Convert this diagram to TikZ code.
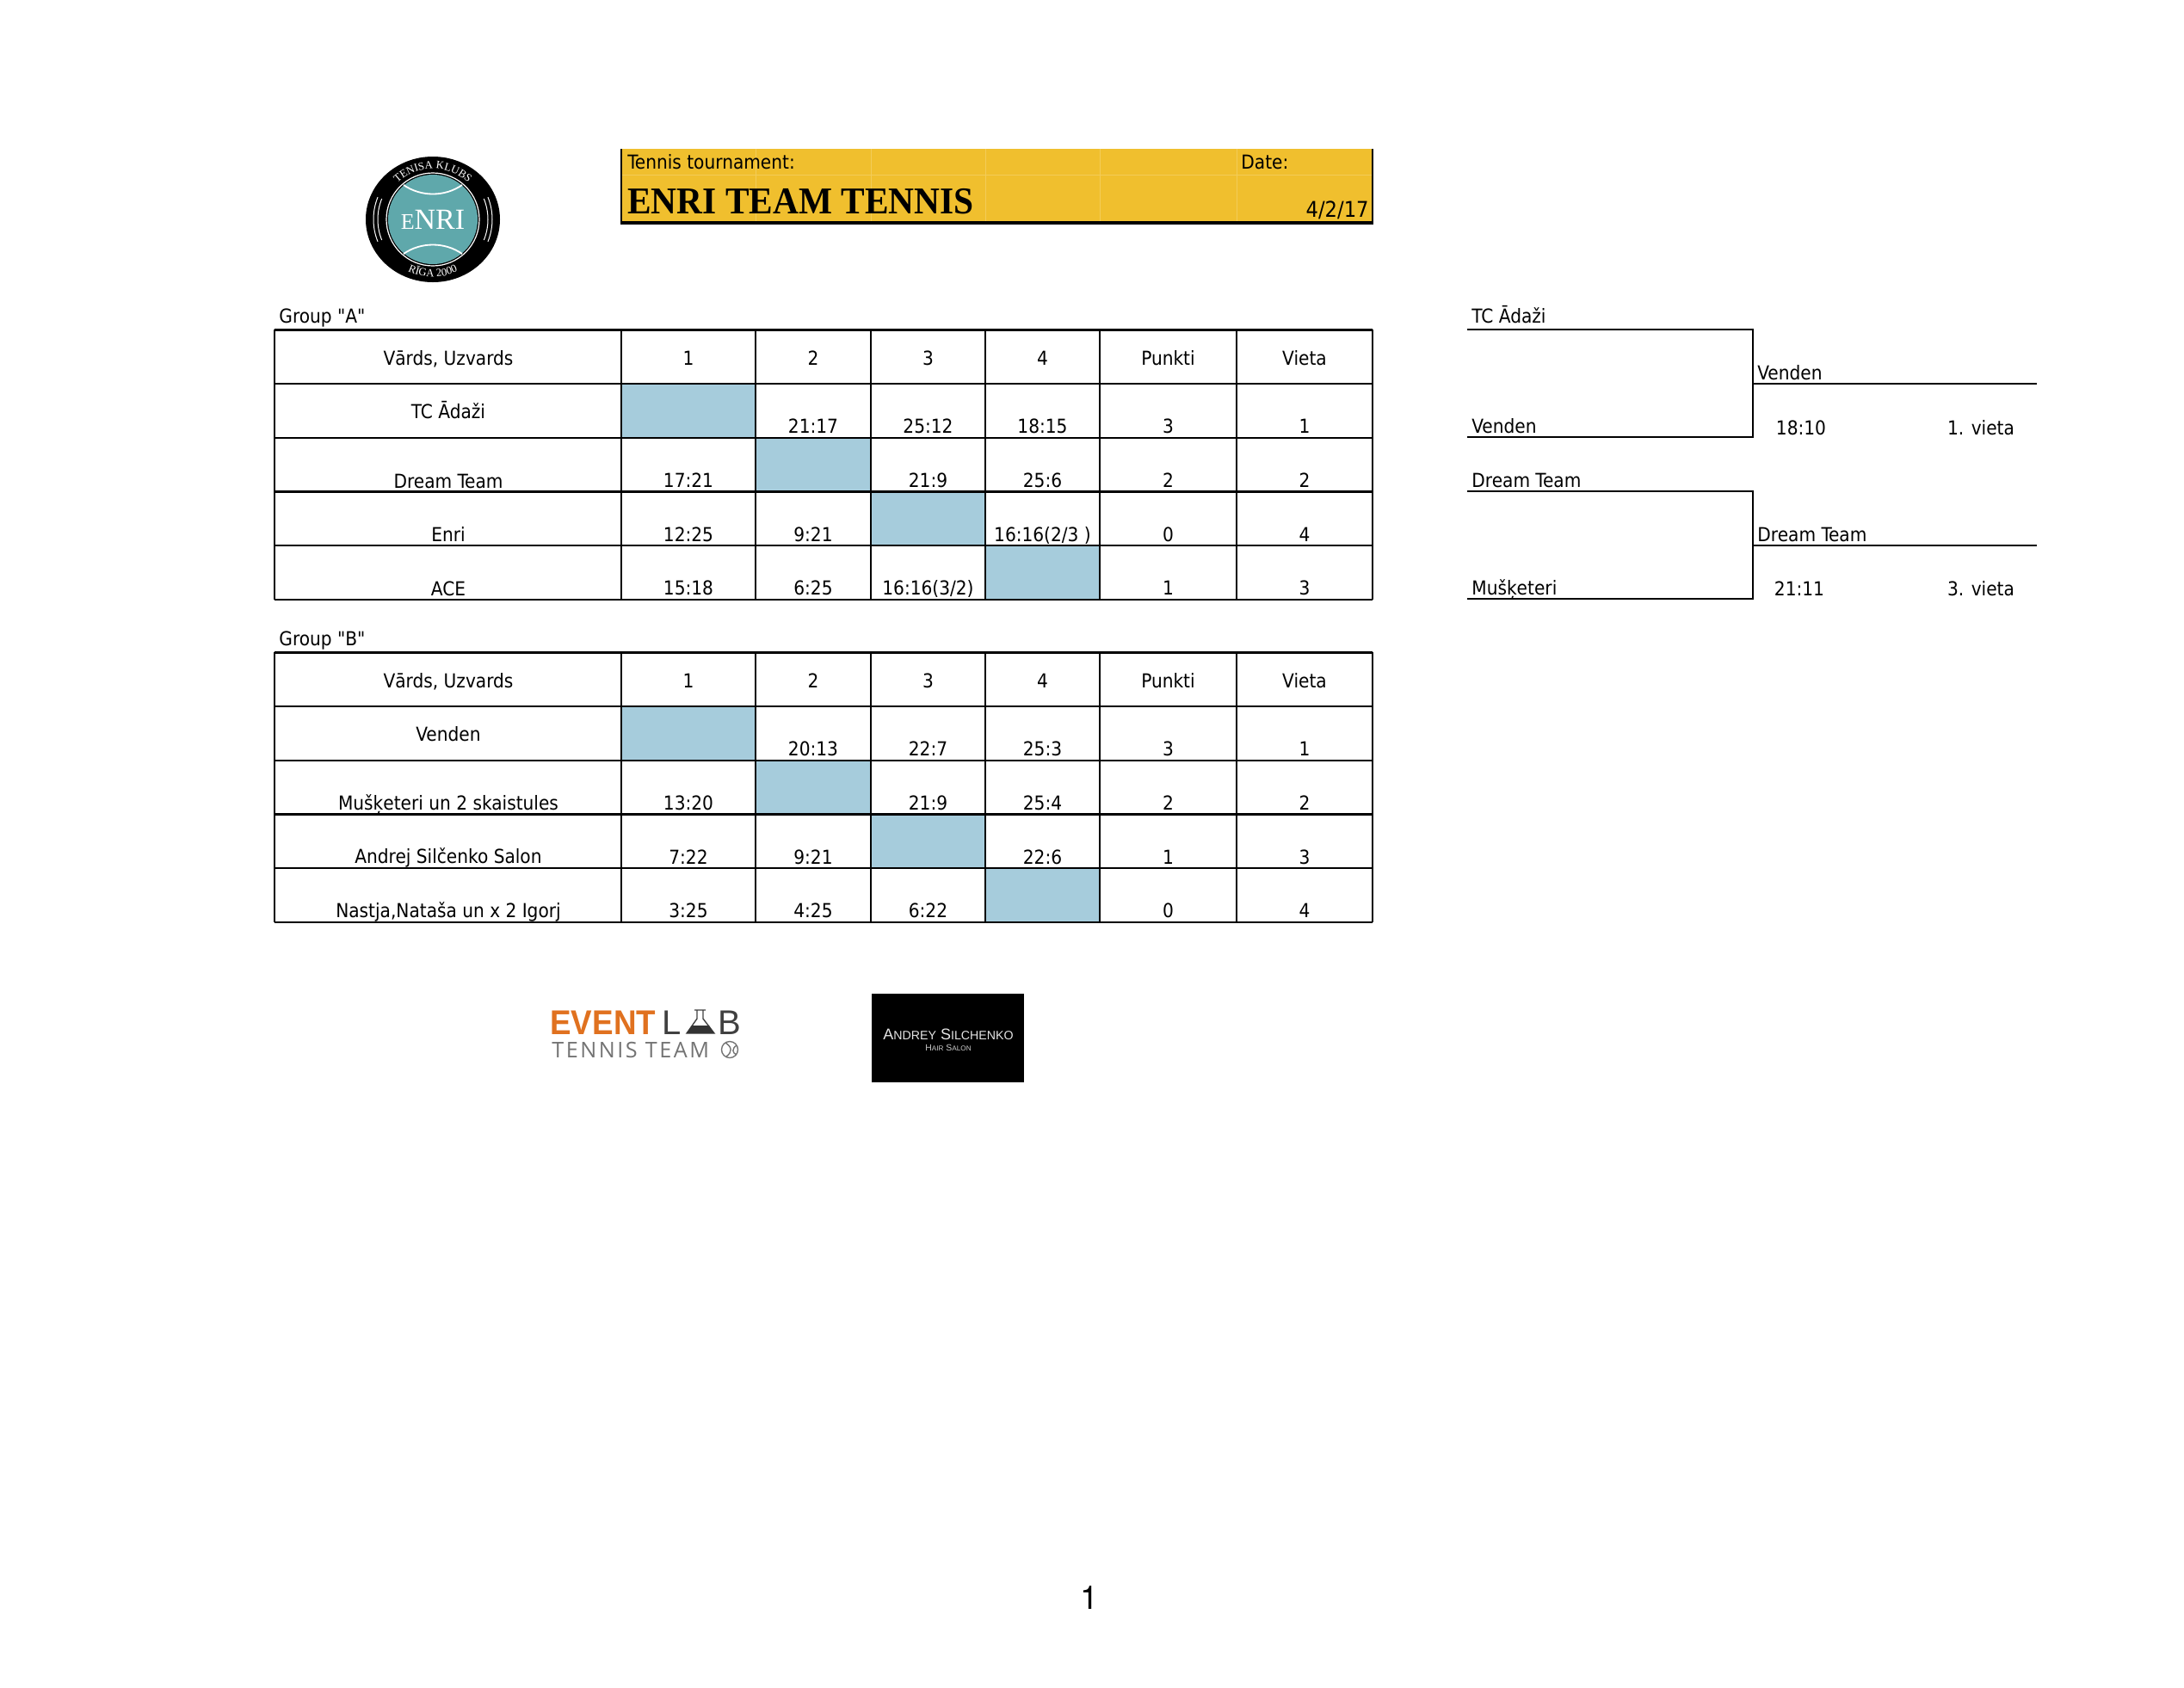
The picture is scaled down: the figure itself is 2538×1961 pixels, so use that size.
\documentclass[tikz,border=0pt]{standalone}
\usepackage{fontspec}
\setmainfont[Ligatures=TeXOff]{DejaVu Sans Condensed}
\newfontfamily\titlefont[FakeStretch=0.94]{Liberation Serif}
\newfontfamily\logofont{Liberation Serif}
\newfontfamily\pagefont{Liberation Sans}
\newfontfamily\numberfont{TeX Gyre Heros}
\newfontfamily\eventfont[FakeStretch=0.92]{Liberation Sans}
\newfontfamily\teamfont[LetterSpace=10]{Open Sans}
\usetikzlibrary{decorations.text}

\definecolor{cellblue}{HTML}{A6CCDC}
\definecolor{headyellow}{HTML}{F0BF2E}
\definecolor{logoteal}{HTML}{5FA8AB}
\definecolor{eventorange}{HTML}{E0711F}

\tikzset{
    cell/.style={anchor=base, inner sep=0pt, font=\fontsize{11.2}{13}\selectfont},
    lcell/.style={cell, anchor=base west},
    rule/.style={line width=1.2pt, black},
    seam/.style={line width=0.9pt, white},
    ringtext/.style={decoration={text along path, text align=center, text color=white,
        text={#1}}, postaction={decorate}},
}

\newcommand{\scorecell}[5]{%
    \ifx\relax#5\relax
        \fill[cellblue] ({#2-#3/2},{#4-62.7}) rectangle ({#2+#3/2},#4);
    \else
        \node[cell] (#1) at (#2,{#4-5}) {#5};
    \fi
}
\newcommand{\teamrow}[8]{%
    \scorecell{#1a}{800}{156}{#2}{#3}
    \scorecell{#1b}{945}{134}{#2}{#4}
    \scorecell{#1c}{1078.5}{133}{#2}{#5}
    \scorecell{#1d}{1211.5}{133}{#2}{#6}
    \node[cell] (#1p) at (1357.5,{#2-5}) {#7};
    \node[cell] (#1v) at (1516,{#2-5}) {#8};
}
\newcommand{\tablehead}[2]{%
    \node[cell] (#1n) at (521,#2) {Vārds, Uzvards};
    \foreach \cx/\ct [count=\ci] in {800/1,945/2,1078.5/3,1211.5/4,1357.5/Punkti,1516/Vieta}
        \node[cell] (#1h\ci) at (\cx,#2) {\ct};
}
\newcommand{\tablegrid}[1]{%
    \foreach \ry in {0,...,5}
        \draw[rule] (319,{#1+\ry*62.7}) -- (1595,{#1+\ry*62.7});
    \foreach \cx in {319,722,878,1012,1145,1278,1437,1595}
        \draw[rule] (\cx,#1) -- (\cx,{#1+313.5});
}

\begin{document}
\begin{tikzpicture}[x=0.5pt, y=-0.5pt]
    \useasboundingbox (0,0) rectangle (2538,1961);

    % title bar
    \fill[headyellow] (721,173) rectangle (1595,259);
    \foreach \cx in {878,1012,1145,1278,1437}
        \draw[headyellow!80!white, line width=0.4pt] (\cx,173) -- (\cx,259);
    \draw[headyellow!80!white, line width=0.4pt] (721,203) -- (1595,203);
    \draw[line width=1.4pt] (722,173) -- (722,259);
    \draw[line width=1.4pt] (1595,173) -- (1595,259);
    \draw[line width=2pt] (721,259) -- (1596,259);
    \node[lcell] (tourn) at (729,196) {Tennis tournament:};
    \node[lcell] (datelbl) at (1442,196) {Date:};
    \node[lcell, font=\titlefont\bfseries\fontsize{22}{24}\selectfont] (title) at (729,248) {ENRI TEAM TENNIS};
    \node[cell, anchor=base east, font=\fontsize{12.6}{14}\selectfont] (dateval) at (1591,252) {4/2/17};

    % club logo
    \begin{scope}[shift={(503,255)}]
        \fill[black] (0,0) ellipse [x radius=78, y radius=73];
        \draw[white, line width=0.5pt] (158:64) arc [start angle=158, end angle=202, radius=64];
        \draw[white, line width=0.5pt] (158:69) arc [start angle=158, end angle=202, radius=69];
        \draw[white, line width=0.5pt] (-22:64) arc [start angle=-22, end angle=22, radius=64];
        \draw[white, line width=0.5pt] (-22:69) arc [start angle=-22, end angle=22, radius=69];
        \fill[logoteal] (0,0) circle [radius=52];
        \draw[white, line width=0.6pt] (0,0) circle [radius=54];
        \draw[seam] (-34,-40) .. controls (-14,-26) and (14,-26) .. (34,-40);
        \draw[seam] (-34,40) .. controls (-14,26) and (14,26) .. (34,40);
        \path[ringtext={|\logofont\fontsize{6.4}{7}\selectfont|TENISA KLUBS}]
            (-150:59) arc [start angle=-150, end angle=-30, radius=59];
        \path[ringtext={|\logofont\fontsize{6.4}{7}\selectfont|RĪGA 2000}]
            (140:67) arc [start angle=140, end angle=40, radius=67];
        \node[anchor=center, inner sep=0pt, white, font=\logofont\fontsize{17}{18}\selectfont] (enri) at (0,0)
            {{\fontsize{13}{14}\selectfont E}NRI};
    \end{scope}

    % group A
    \node[lcell] (groupA) at (324,375) {Group "A"};
    \tablehead{ah}{424}
    \node[cell] (an1) at (521,486) {TC Ādaži};
    \node[cell] (an2) at (521,567) {Dream Team};
    \node[cell] (an3) at (521,629) {Enri};
    \node[cell] (an4) at (521,692) {ACE};
    \teamrow{a1}{508.7}{}{21:17}{25:12}{18:15}{3}{1}
    \teamrow{a2}{571.4}{17:21}{}{21:9}{25:6}{2}{2}
    \teamrow{a3}{634.1}{12:25}{9:21}{}{16:16(2/3 )}{0}{4}
    \teamrow{a4}{696.8}{15:18}{6:25}{16:16(3/2)}{}{1}{3}
    \tablegrid{383.3}

    % group B
    \node[lcell] (groupB) at (324,750) {Group "B"};
    \tablehead{bh}{799}
    \node[cell] (bn1) at (521,861) {Venden};
    \node[cell] (bn2) at (521,941) {Mušķeteri un 2 skaistules};
    \node[cell] (bn3) at (521,1003) {Andrej Silčenko Salon};
    \node[cell] (bn4) at (521,1066) {Nastja,Nataša un x 2 Igorj};
    \teamrow{b1}{883.7}{}{20:13}{22:7}{25:3}{3}{1}
    \teamrow{b2}{946.4}{13:20}{}{21:9}{25:4}{2}{2}
    \teamrow{b3}{1009.1}{7:22}{9:21}{}{22:6}{1}{3}
    \teamrow{b4}{1071.8}{3:25}{4:25}{6:22}{}{0}{4}
    \tablegrid{758.3}

    % play-off brackets
    \coordinate (u1) at (1705,383);
    \coordinate (u2) at (2037,383);
    \coordinate (u3) at (2037,508);
    \coordinate (u4) at (1705,508);
    \coordinate (u5) at (2037,446);
    \coordinate (u6) at (2367,446);
    \draw[rule] (u1) -- (u2) -- (u3) -- (u4);
    \draw[rule] (u5) -- (u6);
    \node[lcell] (up1) at (1710,375) {TC Ādaži};
    \node[lcell] (up2) at (1710,503) {Venden};
    \node[lcell] (up3) at (2042,441) {Venden};
    \node[cell] (up4) at (2093,505) {18:10};
    \node[cell] (up5) at (2302,505) {1. vieta};

    \coordinate (d1) at (1705,571);
    \coordinate (d2) at (2037,571);
    \coordinate (d3) at (2037,696);
    \coordinate (d4) at (1705,696);
    \coordinate (d5) at (2037,634);
    \coordinate (d6) at (2367,634);
    \draw[rule] (d1) -- (d2) -- (d3) -- (d4);
    \draw[rule] (d5) -- (d6);
    \node[lcell] (dn1) at (1710,566) {Dream Team};
    \node[lcell] (dn2) at (1710,691) {Mušķeteri};
    \node[lcell] (dn3) at (2042,629) {Dream Team};
    \node[cell] (dn4) at (2091,692) {21:11};
    \node[cell] (dn5) at (2302,692) {3. vieta};

    % sponsors
    \node[lcell, eventorange, font=\eventfont\bfseries\fontsize{20}{22}\selectfont] (event) at (639,1202) {EVENT};
    \node[lcell, black!75, font=\pagefont\fontsize{20}{22}\selectfont] (labl) at (769,1202) {L};
    \node[lcell, black!75, font=\pagefont\fontsize{20}{22}\selectfont] (labb) at (834,1202) {B};
    \draw[black!75, line width=0.7pt] (807,1174) -- (820,1174) (810,1174) -- (810,1184) -- (798,1201) -- (830,1201) -- (817,1184) -- (817,1174);
    \fill[black!80] (804,1192) -- (824,1192) -- (830,1201) -- (798,1201) -- cycle;
    \node[lcell, black!55, font=\teamfont\fontsize{12.6}{14}\selectfont] (tennis) at (641,1229) {TENNIS TEAM};
    \draw[black!55, line width=0.7pt] (848,1220) circle [radius=9.5];
    \draw[black!55, line width=0.7pt] (843,1212) .. controls (851,1217) and (851,1223) .. (844,1228);
    \draw[black!55, line width=0.7pt] (856,1215) .. controls (850,1219) and (851,1224) .. (856,1226);

    \fill[black] (1013,1154.5) rectangle (1190,1257.5);
    \node[cell, anchor=center, black!10, font=\pagefont\fontsize{9}{10}\selectfont] (salon) at (1102,1202.5)
        {A{\fontsize{7.1}{8}\selectfont NDREY} S{\fontsize{7.1}{8}\selectfont ILCHENKO}};
    \node[cell, anchor=center, black!20, font=\pagefont\fontsize{5.2}{6}\selectfont] (hair) at (1102,1218)
        {H{\fontsize{4.1}{5}\selectfont AIR} S{\fontsize{4.1}{5}\selectfont ALON}};

    % page number
    \node[cell, font=\numberfont\fontsize{19}{21}\selectfont] (pagenum) at (1266,1870) {1};
\end{tikzpicture}
\end{document}
